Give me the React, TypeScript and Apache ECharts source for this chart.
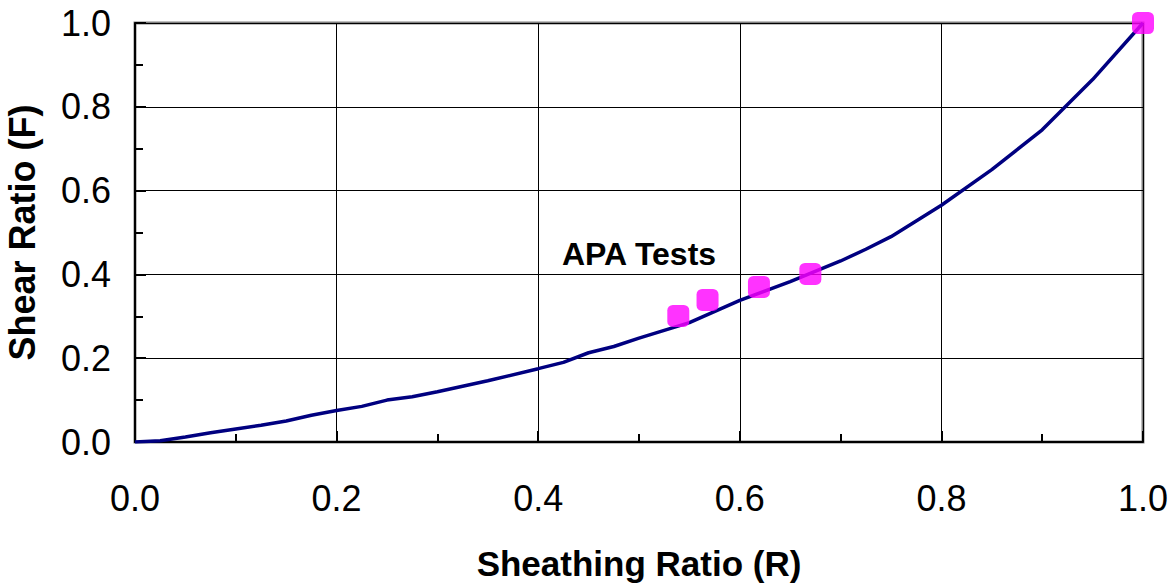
import React, { useEffect, useRef } from "react";
import * as echarts from "echarts";

const curveR = [0, 0.025, 0.05, 0.075, 0.1, 0.125, 0.15, 0.175, 0.2, 0.225, 0.25, 0.275, 0.3, 0.35, 0.4, 0.425, 0.45, 0.475, 0.5, 0.55, 0.6, 0.65, 0.7, 0.725, 0.75, 0.8, 0.85, 0.9, 0.95, 1.0];
const curveF = [0, 0.003, 0.012, 0.022, 0.031, 0.04, 0.05, 0.064, 0.075, 0.085, 0.1, 0.108, 0.12, 0.146, 0.175, 0.19, 0.213, 0.228, 0.248, 0.285, 0.338, 0.383, 0.432, 0.46, 0.49, 0.565, 0.65, 0.745, 0.865, 1.0];

const testR = [0.539, 0.568, 0.619, 0.67, 1.0];
const testF = [0.301, 0.339, 0.37, 0.401, 1.0];

const seriesLabel = "APA Tests";
const xTitle = "Sheathing Ratio (R)";
const yTitle = "Shear Ratio (F)";

export default function App() {
  const ref = useRef<HTMLDivElement>(null);
  useEffect(() => {
    if (!ref.current) return;
    const chart = echarts.init(ref.current, null, { renderer: "svg" });
    const font = "Liberation Sans, Arial, sans-serif";
    const axisCommon = {
      type: "value",
      min: 0,
      max: 1,
      interval: 0.2,
      axisLine: { show: true, onZero: false, lineStyle: { color: "#000", width: 2 } },
      axisTick: { show: true, inside: true, length: 11, lineStyle: { color: "#000", width: 2 } },
      minorTick: { show: true, splitNumber: 2, length: 8, lineStyle: { color: "#000", width: 2 } },
      splitLine: { show: true, lineStyle: { color: "#000", width: 1 } },
      axisLabel: {
        color: "#000",
        fontFamily: font,
        fontSize: 36,
        formatter: (v: number) => v.toFixed(1),
      },
    };
    chart.setOption({
      animation: false,
      backgroundColor: "#fff",
      grid: {
        left: 135,
        top: 23,
        width: 1008,
        height: 419,
        outerBoundsMode: "none",
        containLabel: false,
        show: true,
        borderColor: "#808080",
        borderWidth: 3,
        backgroundColor: "transparent",
      },
      xAxis: {
        ...axisCommon,
        axisLabel: { ...axisCommon.axisLabel, margin: 38 },
        name: xTitle,
        nameLocation: "middle",
        nameGap: 104,
        nameTextStyle: { color: "#000", fontFamily: font, fontSize: 35, fontWeight: "bold" },
      },
      yAxis: {
        ...axisCommon,
        axisLabel: { ...axisCommon.axisLabel, margin: 24 },
        name: yTitle,
        nameLocation: "middle",
        nameGap: 95,
        nameTextStyle: { color: "#000", fontFamily: font, fontSize: 36, fontWeight: "bold" },
      },
      series: [
        {
          type: "line",
          data: curveR.map((r, i) => [r, curveF[i]]),
          showSymbol: false,
          smooth: false,
          lineStyle: { color: "#000080", width: 3.5 },
          z: 3,
        },
        {
          type: "scatter",
          data: testR.map((r, i) => [r, testF[i]]),
          symbol: "roundRect",
          symbolSize: 22,
          itemStyle: { color: "#FF00FF" },
          z: 4,
          clip: false,
        },
      ],
      graphic: [
        {
          type: "text",
          left: 562,
          top: 238,
          style: {
            text: seriesLabel,
            fill: "#000",
            font: `bold 32px ${font}`,
          },
        },
      ],
    });
    return () => chart.dispose();
  }, []);
  return (
    <div
      ref={ref}
      style={{ position: "fixed", left: 0, top: 0, width: 1175, height: 584, background: "#fff" }}
    />
  );
}
